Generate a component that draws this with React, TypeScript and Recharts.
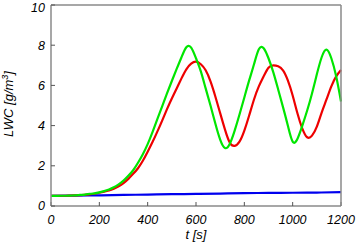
import React from 'react';
import { LineChart, Line, XAxis, YAxis } from 'recharts';

const times = [
  0, 20, 40, 60, 80, 100, 120, 140, 160, 180, 200, 220, 240, 260, 280, 300,
  320, 340, 360, 380, 400, 420, 440, 460, 480, 500, 520, 540, 560, 580, 600,
  620, 640, 660, 680, 700, 720, 740, 760, 780, 800, 820, 840, 860, 880, 900,
  920, 940, 960, 980, 1000, 1020, 1040, 1060, 1080, 1100, 1120, 1140, 1160, 1180, 1200,
];

const greenLWC = [
  0.5, 0.5, 0.51, 0.51, 0.52, 0.53, 0.55, 0.57, 0.6, 0.63, 0.68, 0.74, 0.82, 0.93, 1.08, 1.26,
  1.5, 1.78, 2.15, 2.58, 3.08, 3.68, 4.32, 4.96, 5.6, 6.22, 6.82, 7.4, 7.9, 7.88, 7.35,
  6.7, 5.85, 5.0, 4.1, 3.3, 2.88, 3.1, 3.75, 4.55, 5.4, 6.25, 7.05, 7.8, 7.85, 7.35,
  6.65, 5.8, 4.92, 4.0, 3.2, 3.35, 4.0, 4.75, 5.6, 6.55, 7.4, 7.78, 7.35, 6.45, 5.2,
];

const redLWC = [
  0.5, 0.5, 0.51, 0.51, 0.52, 0.53, 0.54, 0.56, 0.58, 0.61, 0.66, 0.71, 0.77, 0.86, 0.98, 1.14,
  1.35, 1.6, 1.88, 2.25, 2.7, 3.18, 3.7, 4.25, 4.82, 5.35, 5.85, 6.35, 6.8, 7.08, 7.18,
  7.05, 6.75, 6.2, 5.45, 4.62, 3.8, 3.15, 2.99, 3.2, 3.75, 4.5, 5.3, 5.95, 6.45, 6.88,
  7.0, 6.95, 6.75, 6.25, 5.5, 4.6, 3.85, 3.42, 3.5, 3.95, 4.65, 5.3, 5.95, 6.45, 6.77,
];

const blueTimes = [0, 100, 200, 300, 400, 500, 600, 700, 800, 900, 1000, 1100, 1200];
const blueLWC = [0.5, 0.52, 0.53, 0.55, 0.57, 0.59, 0.6, 0.62, 0.64, 0.65, 0.66, 0.67, 0.69];

const xTicks = [0, 200, 400, 600, 800, 1000, 1200];
const yTicks = [0, 2, 4, 6, 8, 10];

const mainRows = times.map((t, i) => ({ t, green: greenLWC[i], red: redLWC[i] }));
const blueRows = blueTimes.map((t, i) => ({ t, blue: blueLWC[i] }));

const FONT = '"Liberation Sans", Arial, Helvetica, sans-serif';
const FRAME = '#8a8a8a';
const tickStyle = { fill: '#000', fontSize: 12.5, fontStyle: 'italic', fontFamily: FONT };
const lineStyle = { stroke: FRAME, strokeWidth: 1.5 };
const tickLineStyle = { stroke: '#555', strokeWidth: 1 };

const YTitle = () => (
  <text
    transform="translate(13,104) rotate(-90)"
    textAnchor="middle"
    fontFamily={FONT}
    fontStyle="italic"
    fontSize={13}
    fill="#000"
  >
    LWC [g/m
    <tspan fontSize={9} dy={-5}>3</tspan>
    <tspan dy={5}>]</tspan>
  </text>
);

const XTitle = () => (
  <text
    x={196}
    y={239}
    textAnchor="middle"
    fontFamily={FONT}
    fontStyle="italic"
    fontSize={13}
    fill="#000"
  >
    t [s]
  </text>
);

export default function App() {
  return (
    <div style={{ position: 'absolute', left: 0, top: 0, background: '#fff' }}>
      <LineChart
        width={357}
        height={244}
        data={mainRows}
        margin={{ top: 0, right: 0, bottom: 0, left: 0 }}
      >
        <XAxis
          xAxisId="b"
          dataKey="t"
          type="number"
          domain={[0, 1200]}
          ticks={xTicks}
          height={38}
          axisLine={lineStyle}
          tickLine={tickLineStyle}
          tickSize={-4}
          tickMargin={13}
          tick={tickStyle}
          label={<XTitle />}
        />
        <XAxis
          xAxisId="top"
          orientation="top"
          type="number"
          domain={[0, 1200]}
          ticks={xTicks}
          height={5}
          axisLine={lineStyle}
          tickLine={tickLineStyle}
          tickSize={-4}
          tick={false}
        />
        <YAxis
          yAxisId="l"
          type="number"
          domain={[0, 10]}
          ticks={yTicks}
          width={51}
          axisLine={lineStyle}
          tickLine={tickLineStyle}
          tickSize={-4}
          tickMargin={10}
          tick={tickStyle}
          label={<YTitle />}
        />
        <YAxis
          yAxisId="r"
          orientation="right"
          type="number"
          domain={[0, 10]}
          ticks={yTicks}
          width={16}
          axisLine={lineStyle}
          tickLine={tickLineStyle}
          tickSize={-4}
          tick={false}
        />
        <Line
          xAxisId="b"
          yAxisId="l"
          data={blueRows}
          dataKey="blue"
          type="natural"
          stroke="#0000ee"
          strokeWidth={2.2}
          dot={false}
          isAnimationActive={false}
        />
        <Line
          xAxisId="b"
          yAxisId="l"
          dataKey="red"
          type="natural"
          stroke="#ee0000"
          strokeWidth={2.2}
          dot={false}
          isAnimationActive={false}
        />
        <Line
          xAxisId="b"
          yAxisId="l"
          dataKey="green"
          type="natural"
          stroke="#00e600"
          strokeWidth={2.2}
          dot={false}
          isAnimationActive={false}
        />
      </LineChart>
    </div>
  );
}
